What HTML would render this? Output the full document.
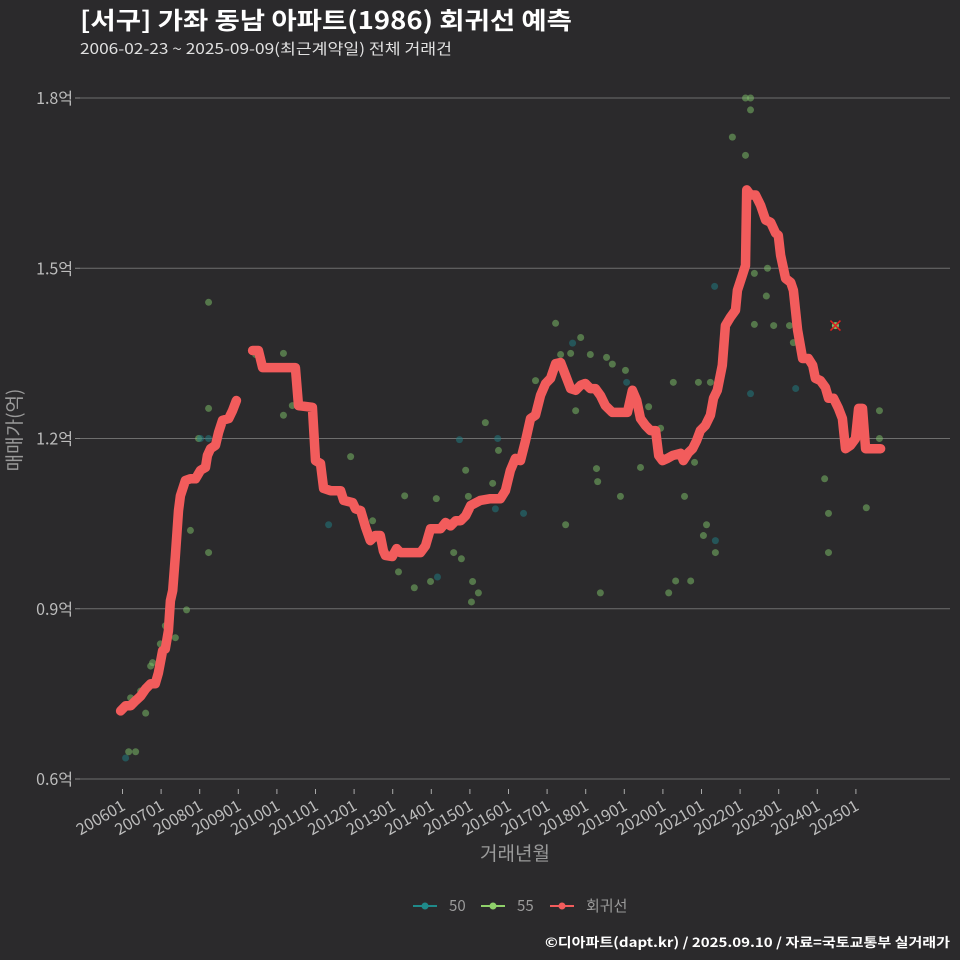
<!DOCTYPE html>
<html><head><meta charset="utf-8">
<style>
html,body{margin:0;padding:0;background:#2b2a2c;}
svg{display:block;font-family:"Noto Sans CJK KR","Liberation Sans",sans-serif;}
</style></head>
<body>
<svg id="chart" width="960" height="960" viewBox="0 0 960 960">
<rect x="0" y="0" width="960" height="960" fill="#2b2a2c"/>
<text x="80" y="29" fill="#ffffff" font-size="24" font-weight="bold" textLength="492" lengthAdjust="spacingAndGlyphs">[서구] 가좌 동남 아파트(1986) 회귀선 예측</text>
<text x="80" y="54" fill="#e0e0e0" font-size="15" textLength="372" lengthAdjust="spacingAndGlyphs">2006-02-23 ~ 2025-09-09(최근계약일) 전체 거래건</text>
<g id="grid"></g>
<g id="yaxis"></g>
<g id="xaxis"></g>
<g id="points"></g>
<g id="line"></g>
<text x="515" y="860" fill="#9a9a9a" font-size="19" text-anchor="middle">거래년월</text>
<text transform="translate(21,430) rotate(-90)" fill="#9a9a9a" font-size="19" text-anchor="middle">매매가(억)</text>
<g>
 <g>
  <line x1="413" y1="906" x2="437" y2="906" stroke="#1f8a8a" stroke-width="2"/>
  <circle cx="425" cy="906" r="3.5" fill="#1f8a8a"/>
  <text x="449" y="911" fill="#9a9a9a" font-size="15">50</text>
 </g>
 <g>
  <line x1="481" y1="906" x2="505" y2="906" stroke="#8fd16a" stroke-width="2"/>
  <circle cx="493" cy="906" r="3.5" fill="#8fd16a"/>
  <text x="517" y="911" fill="#9a9a9a" font-size="15">55</text>
 </g>
 <g>
  <line x1="550" y1="906" x2="574" y2="906" stroke="#f25c5c" stroke-width="2"/>
  <circle cx="562" cy="906" r="3.5" fill="#f25c5c"/>
  <text x="586" y="911" fill="#9a9a9a" font-size="15">회귀선</text>
 </g>
</g>
<text x="950" y="947" fill="#ffffff" font-size="13" font-weight="bold" text-anchor="end" textLength="405" lengthAdjust="spacingAndGlyphs">©디아파트(dapt.kr) / 2025.09.10 / 자료=국토교통부 실거래가</text>
</svg>
<script>
// y ticks (억)
const yTicks = [0.6, 0.9, 1.2, 1.5, 1.8];
const yTickLabels = ["0.6억","0.9억","1.2억","1.5억","1.8억"];
// x ticks: years since 2006-01
const xTicks = [0,1,2,3,4,5,6,7,8,9,10,11,12,13,14,15,16,17,18,19];
const xTickLabels = ["200601","200701","200801","200901","201001","201101","201201","201301","201401","201501","201601","201701","201801","201901","202001","202101","202201","202301","202401","202501"];
// regression line: time (years since 2006-01), value (억); null = gap
const lineT = [-0.05,0.08,0.21,0.34,0.47,0.60,0.73,0.85,0.93,1.04,1.11,1.19,1.24,1.30,1.37,1.45,1.50,1.63,1.76,1.89,2.02,2.15,2.20,2.28,2.41,2.49,2.59,2.75,2.85,2.95,
 null,
 3.37,3.52,3.63,3.96,4.48,4.56,4.92,5.00,5.13,5.21,5.39,5.65,5.73,5.96,6.04,6.17,6.30,6.42,6.55,6.68,6.76,6.81,6.99,7.10,7.20,7.46,7.72,7.85,7.98,8.24,8.37,8.50,8.63,8.76,8.89,9.02,9.27,9.53,9.79,9.92,10.05,10.18,10.31,10.44,10.57,10.70,10.83,10.96,11.09,11.22,11.35,11.48,11.61,11.74,11.87,11.99,12.12,12.25,12.38,12.51,12.69,12.90,13.08,13.21,13.32,13.42,13.55,13.68,13.81,13.89,13.99,14.12,14.25,14.46,14.53,14.66,14.77,14.87,14.97,15.10,15.23,15.31,15.41,15.54,15.62,15.75,15.88,15.93,16.06,16.14,16.17,16.27,16.40,16.53,16.66,16.79,16.92,16.99,17.05,17.18,17.31,17.38,17.49,17.62,17.77,17.88,17.95,18.08,18.21,18.29,18.42,18.55,18.65,18.73,18.86,18.99,19.07,19.17,19.25,19.64];
const lineV = [0.720,0.729,0.729,0.738,0.746,0.759,0.768,0.768,0.787,0.826,0.829,0.861,0.914,0.932,0.994,1.073,1.099,1.126,1.129,1.129,1.144,1.149,1.170,1.182,1.188,1.211,1.232,1.235,1.249,1.267,
 null,
 1.355,1.355,1.325,1.325,1.325,1.258,1.255,1.161,1.156,1.112,1.108,1.108,1.091,1.087,1.076,1.073,1.043,1.020,1.029,1.029,1.002,0.994,0.992,1.006,0.999,0.999,0.999,1.011,1.041,1.041,1.052,1.046,1.055,1.055,1.064,1.082,1.091,1.094,1.094,1.108,1.144,1.165,1.161,1.196,1.235,1.241,1.276,1.297,1.306,1.332,1.334,1.311,1.288,1.285,1.294,1.297,1.288,1.288,1.276,1.258,1.246,1.246,1.246,1.285,1.267,1.235,1.223,1.214,1.214,1.170,1.161,1.165,1.170,1.174,1.161,1.175,1.182,1.196,1.214,1.223,1.241,1.271,1.285,1.329,1.399,1.414,1.426,1.461,1.488,1.505,1.638,1.629,1.629,1.611,1.585,1.581,1.562,1.558,1.523,1.482,1.475,1.461,1.391,1.341,1.341,1.329,1.306,1.302,1.290,1.271,1.271,1.253,1.235,1.182,1.188,1.200,1.253,1.253,1.182,1.182];
// scatter: time, value, area group
const ptT = [0.08,0.16,0.21,0.34,0.47,0.60,0.73,0.78,0.98,1.11,1.37,1.66,1.76,1.97,2.02,2.23,2.23,2.23,2.23,3.45,4.17,4.17,4.40,5.34,5.91,6.48,7.15,7.31,7.56,7.98,8.13,8.16,8.58,8.73,8.78,8.89,8.96,9.04,9.07,9.22,9.40,9.59,9.66,9.72,9.74,10.39,10.70,11.22,11.35,11.48,11.61,11.66,11.74,11.87,12.12,12.28,12.31,12.38,12.54,12.69,12.90,13.03,13.06,13.42,13.63,13.94,14.15,14.27,14.33,14.56,14.72,14.82,14.92,15.05,15.13,15.23,15.34,15.36,15.36,15.80,16.14,16.14,16.27,16.27,16.37,16.37,16.27,16.71,16.68,16.87,17.28,17.38,17.44,18.19,18.29,18.29,18.47,19.27,19.61,19.61];
const ptV = [0.637,0.648,0.743,0.648,0.755,0.716,0.799,0.805,0.838,0.870,0.849,0.898,1.038,1.200,1.200,1.200,1.253,1.440,0.999,1.348,1.350,1.241,1.258,1.048,1.168,1.055,0.965,1.099,0.937,0.948,1.094,0.956,0.999,1.198,0.988,1.144,1.098,0.912,0.948,0.928,1.228,1.121,1.076,1.200,1.179,1.068,1.302,1.403,1.348,1.048,1.350,1.368,1.249,1.378,1.348,1.147,1.124,0.928,1.343,1.331,1.098,1.320,1.299,1.149,1.256,1.218,0.928,1.299,0.949,1.098,0.949,1.158,1.299,1.029,1.048,1.299,1.468,0.999,1.020,1.731,1.699,1.800,1.800,1.779,1.491,1.401,1.279,1.500,1.451,1.399,1.399,1.369,1.288,1.129,1.068,0.999,1.399,1.078,1.249,1.200];
const ptG = [50,55,55,55,55,55,55,55,55,55,55,55,55,55,50,50,55,55,55,55,55,55,55,50,55,55,55,55,55,55,55,50,55,50,55,55,55,55,55,55,55,55,50,50,55,50,55,55,55,55,55,50,55,55,55,55,55,55,55,55,55,55,50,55,55,55,55,55,55,55,55,55,55,55,55,55,50,55,50,55,55,55,55,55,55,55,50,55,55,55,55,55,50,55,55,55,55,55,55,55];
const highlightT = 18.47, highlightV = 1.399;

const NS="http://www.w3.org/2000/svg";
const X0=80, X1=950;
function xs(t){return 122.5 + t*38.6;}
function ys(v){return 779 - (v-0.6)/0.3*170.25;}
function mk(tag,attrs,parent){const e=document.createElementNS(NS,tag);for(const k in attrs)e.setAttribute(k,attrs[k]);parent.appendChild(e);return e;}

const grid=document.getElementById('grid'), ya=document.getElementById('yaxis'), xa=document.getElementById('xaxis');
yTicks.forEach((v,i)=>{
  const l=mk('line',{x1:X0,x2:X1,y1:ys(v),y2:ys(v),stroke:'#6e6e6e','stroke-width':1},grid);
  
  
  const tk=mk('line',{x1:X0-5,x2:X0,y1:ys(v),y2:ys(v),stroke:'#888','stroke-width':1},ya);
  
  
  const t=mk('text',{x:X0-7,y:ys(v)+6,fill:'#bdbdbd','font-size':16,'text-anchor':'end'},ya);
  
  
  t.textContent=yTickLabels[i];
});
xTicks.forEach((tv,i)=>{
  const x=xs(tv);
  const tk=mk('line',{x1:x,x2:x,y1:789,y2:794,stroke:'#aaa','stroke-width':1},xa);
  
  
  const t=mk('text',{transform:`translate(${x+4},${809}) rotate(-30)`,fill:'#bdbdbd','font-size':16,'text-anchor':'end'},xa);
  
  
  t.textContent=xTickLabels[i];
});

const pts=document.getElementById('points');
ptT.forEach((t,i)=>{
  const c=mk('circle',{cx:xs(t),cy:ys(ptV[i]),r:3.5,fill:ptG[i]===50?'#1f7f86':'#7fc46a','fill-opacity':0.5},pts);
  
  
});
const hx=xs(highlightT), hy=ys(highlightV);
const hc=mk('circle',{cx:hx,cy:hy,r:3.5,fill:'#8fd16a','fill-opacity':0.7},pts);


const hp=mk('path',{d:`M${hx-5},${hy-5}L${hx+5},${hy+5}M${hx+5},${hy-5}L${hx-5},${hy+5}`,stroke:'#e02020','stroke-width':1.5},pts);



let d='', pen=false;
lineT.forEach((t,i)=>{
  if(t===null||lineV[i]===null){pen=false;return;}
  d+=(pen?'L':'M')+xs(t).toFixed(1)+','+ys(lineV[i]).toFixed(1);
  pen=true;
});
const lp=mk('path',{d:d,fill:'none',stroke:'#f25c5c','stroke-width':9.5,'stroke-linejoin':'round','stroke-linecap':'round'},document.getElementById('line'));


</script>
</body></html>
